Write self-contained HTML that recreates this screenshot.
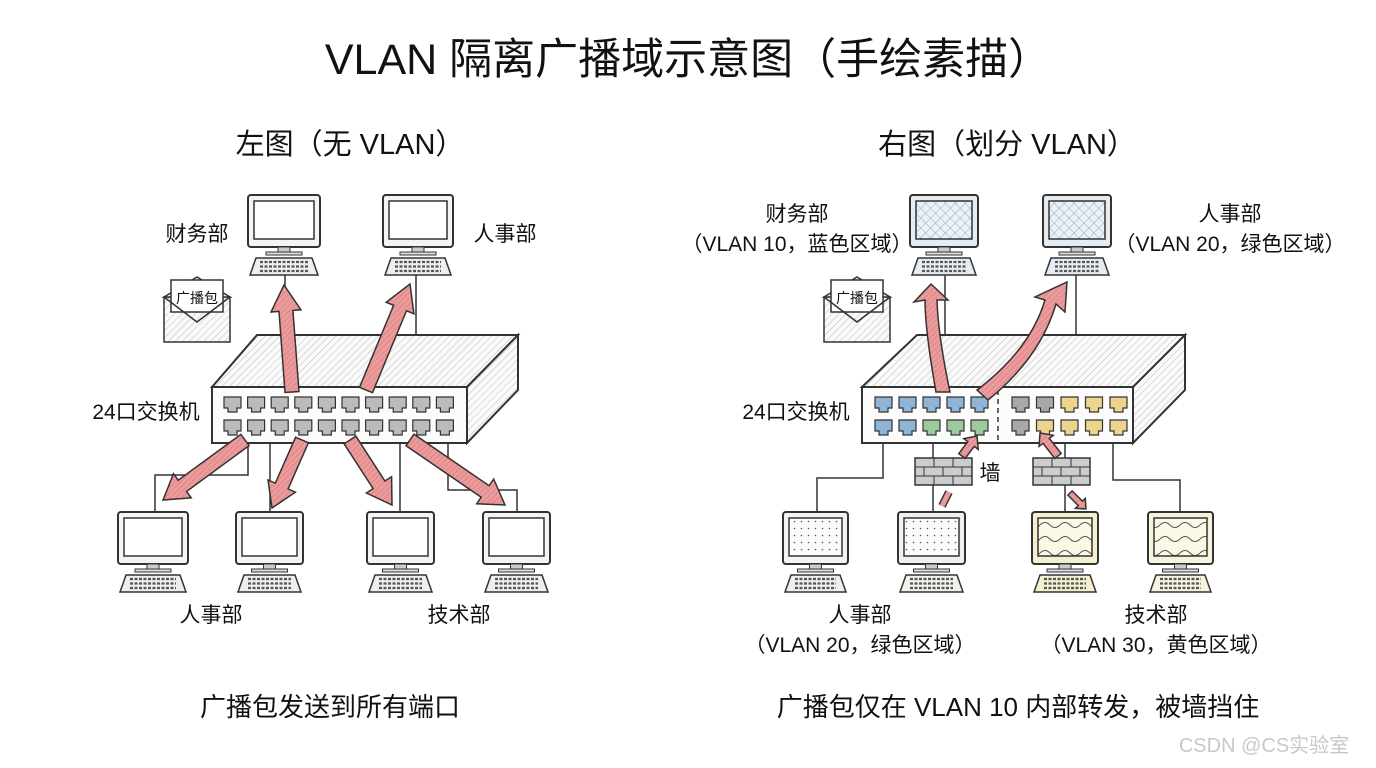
<!DOCTYPE html>
<html><head><meta charset="utf-8">
<style>
html,body{margin:0;padding:0;background:#fff;}
svg{display:block;}
text{font-family:"Liberation Sans","Noto Sans CJK SC",sans-serif;fill:#111;}
</style></head>
<body>
<svg id="s" width="1376" height="768" viewBox="0 0 1376 768" xmlns="http://www.w3.org/2000/svg">
<defs>
<pattern id="hatch" width="5" height="5" patternUnits="userSpaceOnUse" patternTransform="rotate(45)">
<rect width="5" height="5" fill="#fafafa"/><line x1="0" y1="0" x2="0" y2="5" stroke="#bbb" stroke-width="1"/></pattern>
<pattern id="phatch" width="4" height="4" patternUnits="userSpaceOnUse" patternTransform="rotate(45)">
<rect width="4" height="4" fill="#eb9b9b"/><line x1="0" y1="0" x2="0" y2="4" stroke="#d97878" stroke-width="1.2"/></pattern>
<pattern id="grid" width="7" height="7" patternUnits="userSpaceOnUse" patternTransform="rotate(45)">
<rect width="7" height="7" fill="#eaf2f7"/><path d="M0 0H7M0 0V7" stroke="#7e97a8" stroke-width="0.8"/></pattern>
<pattern id="dots" width="7" height="7" patternUnits="userSpaceOnUse">
<rect width="7" height="7" fill="#fbfbfb"/><circle cx="3.5" cy="3.5" r="0.8" fill="#555"/></pattern>
<pattern id="wave" width="20" height="14" patternUnits="userSpaceOnUse">
<rect width="20" height="14" fill="#fbf8e6"/><path d="M0 7Q5 2 10 7T20 7" fill="none" stroke="#555" stroke-width="1"/></pattern>
</defs>
<g id="g"></g>
<text x="688" y="74" font-size="43" text-anchor="middle">VLAN 隔离广播域示意图（手绘素描）</text>
<text x="350" y="154" font-size="29" text-anchor="middle">左图（无 VLAN）</text>
<text x="1007" y="154" font-size="29" text-anchor="middle">右图（划分 VLAN）</text>
<text x="197" y="241" font-size="21" text-anchor="middle">财务部</text>
<text x="505" y="241" font-size="21" text-anchor="middle">人事部</text>
<text x="146" y="419" font-size="21" text-anchor="middle">24口交换机</text>
<text x="211" y="622" font-size="21" text-anchor="middle">人事部</text>
<text x="459" y="622" font-size="21" text-anchor="middle">技术部</text>
<text x="330" y="716" font-size="26" text-anchor="middle">广播包发送到所有端口</text>
<text x="797" y="221" font-size="21" text-anchor="middle">财务部</text>
<text x="797" y="251" font-size="21" text-anchor="middle">（VLAN 10，蓝色区域）</text>
<text x="1230" y="221" font-size="21" text-anchor="middle">人事部</text>
<text x="1230" y="251" font-size="21" text-anchor="middle">（VLAN 20，绿色区域）</text>
<text x="796" y="419" font-size="21" text-anchor="middle">24口交换机</text>
<text x="990" y="480" font-size="21" text-anchor="middle">墙</text>
<text x="860" y="622" font-size="21" text-anchor="middle">人事部</text>
<text x="860" y="652" font-size="21" text-anchor="middle">（VLAN 20，绿色区域）</text>
<text x="1156" y="622" font-size="21" text-anchor="middle">技术部</text>
<text x="1156" y="652" font-size="21" text-anchor="middle">（VLAN 30，黄色区域）</text>
<text x="1018" y="716" font-size="26" text-anchor="middle">广播包仅在 VLAN 10 内部转发，被墙挡住</text>
<text x="1264" y="752" font-size="20" text-anchor="middle" style="fill:#c8c8c8">CSDN @CS实验室</text>
</svg>
<script>
var g=document.getElementById('g'),NS='http://www.w3.org/2000/svg';
function el(t,a,p){var e=document.createElementNS(NS,t);for(var k in a)e.setAttribute(k,a[k]);(p||g).appendChild(e);return e;}
var S='#333';
function line(pts){el('polyline',{points:pts,fill:'none',stroke:S,'stroke-width':1.5});}
function monitor(x,y,w,fill,tint){
  var h=52;
  el('rect',{x:x,y:y,width:w,height:h,rx:3,fill:tint||'#f4f4f4',stroke:S,'stroke-width':2});
  el('rect',{x:x+6,y:y+6,width:w-12,height:h-14,fill:fill||'#fff',stroke:S,'stroke-width':1.5});
  var cx=x+w/2;
  el('rect',{x:cx-6,y:y+h,width:12,height:5,fill:'#ccc',stroke:S,'stroke-width':1});
  el('rect',{x:cx-18,y:y+h+5,width:36,height:3,fill:'#ddd',stroke:S,'stroke-width':1});
  el('polygon',{points:(x+2)+','+(y+h+28)+' '+(x+8)+','+(y+h+11)+' '+(x+w-8)+','+(y+h+11)+' '+(x+w-2)+','+(y+h+28),fill:tint||'#eee',stroke:S,'stroke-width':1.5});
  for(var r=0;r<3;r++)el('line',{x1:x+12,x2:x+w-12,y1:y+h+15+r*4.5,y2:y+h+15+r*4.5,stroke:'#555','stroke-width':2.2,'stroke-dasharray':'3 1.5'});
}
function sw(fx,fx2,bx,bx2){
  var y1=387,y2=443,yb=335;
  el('polygon',{points:fx+','+y1+' '+bx+','+yb+' '+bx2+','+yb+' '+fx2+','+y1,fill:'url(#hatch)',stroke:S,'stroke-width':2});
  el('polygon',{points:fx2+','+y1+' '+bx2+','+yb+' '+bx2+','+(yb+55)+' '+fx2+','+y2,fill:'url(#hatch)',stroke:S,'stroke-width':2});
  el('rect',{x:fx,y:y1,width:fx2-fx,height:y2-y1,fill:'#fcfcfc',stroke:S,'stroke-width':2});
}
function port(x,y,c){
  el('path',{d:'M'+x+' '+y+'h17v11h-4v4h-9v-4h-4z',fill:c||'#bbb',stroke:S,'stroke-width':1.2});
}
function arrow(x1,y1,x2,y2,w,hw,hl){
  var dx=x2-x1,dy=y2-y1,L=Math.hypot(dx,dy),ux=dx/L,uy=dy/L,nx=-uy,ny=ux;
  var bx=x2-ux*hl,by=y2-uy*hl;
  var p=[[x1+nx*w,y1+ny*w],[bx+nx*w,by+ny*w],[bx+nx*hw,by+ny*hw],[x2,y2],[bx-nx*hw,by-ny*hw],[bx-nx*w,by-ny*w],[x1-nx*w,y1-ny*w]];
  el('polygon',{points:p.map(function(q){return q[0].toFixed(1)+','+q[1].toFixed(1)}).join(' '),fill:'url(#phatch)',stroke:S,'stroke-width':1.5});
}
function envelope(x,y){
  el('rect',{x:x,y:y+20,width:66,height:45,fill:'url(#hatch)',stroke:S,'stroke-width':1.5});
  el('polygon',{points:(x)+','+(y+20)+' '+(x+33)+','+(y)+' '+(x+66)+','+(y+20),fill:'#f4f4f4',stroke:S,'stroke-width':1.5});
  el('rect',{x:x+7,y:y+3,width:52,height:32,fill:'#fff',stroke:S,'stroke-width':1.5});
  el('polyline',{points:x+','+(y+20)+' '+(x+33)+','+(y+45)+' '+(x+66)+','+(y+20),fill:'none',stroke:S,'stroke-width':1.5});
}
function wall(x,y){
  el('rect',{x:x,y:y,width:57,height:27,fill:'#ccc',stroke:S,'stroke-width':1.5});
  for(var r=0;r<3;r++){el('line',{x1:x,x2:x+57,y1:y+r*9,y2:y+r*9,stroke:S});
    for(var c=(r%2?9:0);c<57;c+=19)if(c>0)el('line',{x1:x+c,x2:x+c,y1:y+r*9,y2:y+r*9+9,stroke:S});}
}
line('285,275 285,390');line('416,275 416,335');
line('248,443 248,475 155,475 155,512');line('270,443 270,512');
line('400,443 400,512');line('448,443 448,490 517,490 517,512');
sw(212,467,257,518);
for(var i=0;i<10;i++){port(224+i*23.6,397);port(224+i*23.6,420);}
monitor(248,195,72);monitor(383,195,70);
monitor(118,512,70);monitor(236,512,67);monitor(367,512,67);monitor(483,512,67);
envelope(164,277);
arrow(292,392,284,285,7,15,26);arrow(366,390,410,284,7,15,26);
arrow(245,440,163,500,7,15,24);arrow(302,440,272,508,7,15,24);
arrow(350,440,392,505,7,15,24);arrow(410,440,505,505,7,15,24);
el('text',{x:197,y:303,'font-size':14,'text-anchor':'middle'}).textContent='广播包';
line('945,275 945,390');line('1076,275 1076,335');
line('883,443 883,478 817,478 817,512');line('933,443 933,512');
line('1065,443 1065,512');line('1113,443 1113,480 1180,480 1180,512');
sw(862,1133,917,1185);
el('line',{x1:998,y1:390,x2:998,y2:442,stroke:S,'stroke-width':1.5,'stroke-dasharray':'5 4'});
var B='#8fb4d6',G='#9dc99b',Y='#ecd48f',Gr='#a8a8a8';
var r1=[B,B,B,B,B,Gr,Gr,Y,Y,Y],r2=[B,B,G,G,G,Gr,Y,Y,Y,Y];
for(var i=0;i<5;i++){port(875+i*24,397,r1[i]);port(875+i*24,420,r2[i]);port(1012+i*24.5,397,r1[i+5]);port(1012+i*24.5,420,r2[i+5]);}
monitor(910,195,68,'url(#grid)','#e6edf2');monitor(1043,195,68,'url(#grid)','#e6edf2');
monitor(783,512,65,'url(#dots)');monitor(898,512,67,'url(#dots)','#eef2ea');
monitor(1032,512,66,'url(#wave)','#f3efcf');monitor(1148,512,65,'url(#wave)','#f6f3df');
wall(915,458);wall(1033,458);
envelope(824,277);
el('text',{x:857,y:303,'font-size':14,'text-anchor':'middle'}).textContent='广播包';
el('path',{d:'M936 392 Q925 330 925 300 L914 302 L931 284 L948 300 L937 300 Q938 335 950 392 Z',fill:'url(#phatch)',stroke:S,'stroke-width':1.5});
el('path',{d:'M977 390 Q1030 350 1045 300 L1035 297 L1067 282 L1065 312 L1056 304 Q1040 358 988 400 Z',fill:'url(#phatch)',stroke:S,'stroke-width':1.5});
arrow(962,456,977,436,4,9,10);arrow(1058,456,1040,433,4,9,10);
arrow(1070,493,1086,509,3,7,8);
el('line',{x1:942,y1:506,x2:949,y2:492,stroke:S,'stroke-width':8});
el('line',{x1:942,y1:506,x2:949,y2:492,stroke:'#eb9b9b','stroke-width':5});
</script>
</body></html>
